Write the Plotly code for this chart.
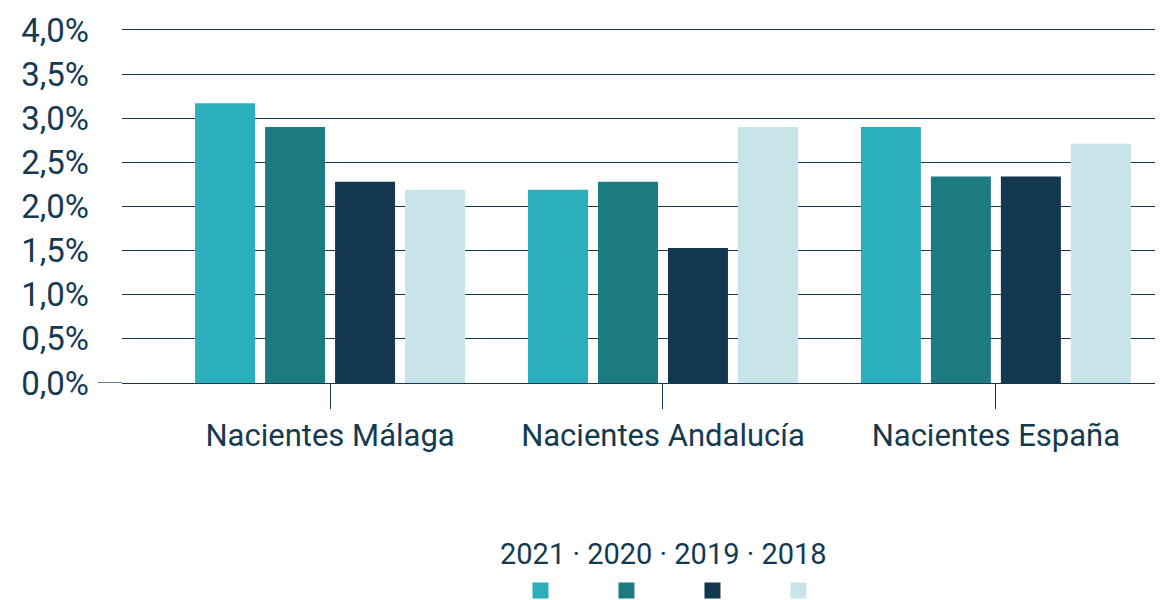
import plotly.graph_objects as go

categories = ["Nacientes Málaga", "Nacientes Andalucía", "Nacientes España"]
years = ["2021", "2020", "2019", "2018"]
values = {
    "2021": [3.17, 2.19, 2.90],
    "2020": [2.90, 2.28, 2.34],
    "2019": [2.28, 1.53, 2.34],
    "2018": [2.19, 2.90, 2.71],
}
colors = {"2021": "#2BAFBC", "2020": "#1B7B80", "2019": "#12374F", "2018": "#C8E4EA"}
y_ticks = [0, 0.5, 1, 1.5, 2, 2.5, 3, 3.5, 4]
y_ticktext = ["0,0%", "0,5%", "1,0%", "1,5%", "2,0%", "2,5%", "3,0%", "3,5%", "4,0%"]
legend_title = "2021 · 2020 · 2019 · 2018"

NAVY = "#143A52"
FONT = "Roboto"

fig = go.Figure()
for yr in years:
    fig.add_trace(go.Bar(x=categories, y=values[yr], name=yr, marker_color=colors[yr],
                         marker_line_width=0, hoverinfo="skip", showlegend=False))
# legend-only swatches
for yr in years:
    fig.add_trace(go.Scatter(x=[None], y=[None], mode="markers", name=" ",
                             marker=dict(symbol="square", size=16, color=colors[yr]),
                             showlegend=True, hoverinfo="skip"))

PH = 355  # plot height in px

fig.update_layout(
    width=1155, height=592,
    margin=dict(l=114, r=0, t=20, b=217, autoexpand=False),
    paper_bgcolor="white", plot_bgcolor="white",
    barmode="group", bargap=0.159, bargroupgap=0.143,
    font=dict(family=FONT, color=NAVY, size=30),
    showlegend=True,
    legend=dict(
        orientation="h", x=0.548, xanchor="center", y=-0.625, yanchor="bottom",
        entrywidth=41, entrywidthmode="pixels",
        font=dict(size=10), itemclick=False, itemdoubleclick=False,
    ),
    xaxis=dict(
        range=[-0.625, 2.502], showgrid=False, showline=True, linecolor=NAVY, linewidth=1.3,
        ticks="outside", ticklen=25, tickcolor=NAVY, tickwidth=1, automargin=False,
        tickfont=dict(size=31, color=NAVY, family=FONT),
    ),
    yaxis=dict(
        range=[0, 4.0226], tickmode="array", tickvals=y_ticks, ticktext=y_ticktext,
        showgrid=True, gridcolor=NAVY, gridwidth=1.3, zeroline=False, automargin=False,
        ticklabelstandoff=32, tickfont=dict(size=33, color=NAVY, family=FONT),
    ),
)

fig.add_annotation(text=legend_title, xref="paper", yref="paper", x=(663-122)/1041,
                   y=-(554-383)/PH, xanchor="center", yanchor="middle", showarrow=False,
                   font=dict(size=29, color=NAVY, family=FONT))

fig.add_shape(type="line", xref="paper", yref="y", x0=-24/1041, x1=0, y0=0, y1=0,
              line=dict(color=NAVY, width=1.3))

fig.write_html("out.html")
